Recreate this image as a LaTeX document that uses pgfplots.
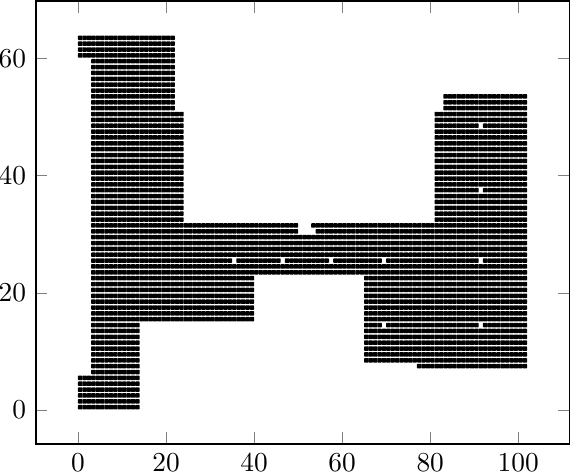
\documentclass[border=0pt]{standalone}
\usepackage{pgfplots}
\usepackage{pgfplotstable}
\pgfplotsset{compat=1.18}
\pgfdeclareplotmark{pill}{%
\pgfpathmoveto{\pgfqpoint{-0.84pt}{-0.57pt}}%
\pgfpathlineto{\pgfqpoint{-0.59pt}{-0.82pt}}%
\pgfpathlineto{\pgfqpoint{0.59pt}{-0.82pt}}%
\pgfpathlineto{\pgfqpoint{0.84pt}{-0.57pt}}%
\pgfpathlineto{\pgfqpoint{0.84pt}{0.57pt}}%
\pgfpathlineto{\pgfqpoint{0.59pt}{0.82pt}}%
\pgfpathlineto{\pgfqpoint{-0.59pt}{0.82pt}}%
\pgfpathlineto{\pgfqpoint{-0.84pt}{0.57pt}}%
\pgfpathclose\pgfusepathqfill}
\pgfplotsset{dots/.style={only marks,mark=pill,black,forget plot}}
% x positions of the points of each kind of row
\pgfplotstableread{
x
0.5
1.5
2.5
3.5
4.5
5.5
6.5
7.5
8.5
9.5
10.5
11.5
12.5
13.5
}\rowA
\pgfplotstableread{
x
3.5
4.5
5.5
6.5
7.5
8.5
9.5
10.5
11.5
12.5
13.5
}\rowB
\pgfplotstableread{
x
77.5
78.5
79.5
80.5
81.5
82.5
83.5
84.5
85.5
86.5
87.5
88.5
89.5
90.5
91.5
92.5
93.5
94.5
95.5
96.5
97.5
98.5
99.5
100.5
101.5
}\rowC
\pgfplotstableread{
x
65.5
66.5
67.5
68.5
69.5
70.5
71.5
72.5
73.5
74.5
75.5
76.5
77.5
78.5
79.5
80.5
81.5
82.5
83.5
84.5
85.5
86.5
87.5
88.5
89.5
90.5
91.5
92.5
93.5
94.5
95.5
96.5
97.5
98.5
99.5
100.5
101.5
}\rowD
\pgfplotstableread{
x
65.5
66.5
67.5
68.5
70.5
71.5
72.5
73.5
74.5
75.5
76.5
77.5
78.5
79.5
80.5
81.5
82.5
83.5
84.5
85.5
86.5
87.5
88.5
89.5
90.5
92.5
93.5
94.5
95.5
96.5
97.5
98.5
99.5
100.5
101.5
}\rowDh
\pgfplotstableread{
x
3.5
4.5
5.5
6.5
7.5
8.5
9.5
10.5
11.5
12.5
13.5
14.5
15.5
16.5
17.5
18.5
19.5
20.5
21.5
22.5
23.5
24.5
25.5
26.5
27.5
28.5
29.5
30.5
31.5
32.5
33.5
34.5
35.5
36.5
37.5
38.5
39.5
}\rowE
\pgfplotstableread{
x
40.5
41.5
42.5
43.5
44.5
45.5
46.5
47.5
48.5
49.5
}\rowM
\pgfplotstableread{
x
50.5
51.5
52.5
}\rowN
\pgfplotstableread{
x
53.5
}\rowO
\pgfplotstableread{
x
54.5
55.5
56.5
57.5
58.5
59.5
60.5
61.5
62.5
63.5
64.5
}\rowP
\pgfplotstableread{
x
3.5
4.5
5.5
6.5
7.5
8.5
9.5
10.5
11.5
12.5
13.5
14.5
15.5
16.5
17.5
18.5
19.5
20.5
21.5
22.5
23.5
24.5
25.5
26.5
27.5
28.5
29.5
30.5
31.5
32.5
33.5
34.5
36.5
37.5
38.5
39.5
40.5
41.5
42.5
43.5
44.5
45.5
47.5
48.5
49.5
50.5
51.5
52.5
53.5
54.5
55.5
56.5
58.5
59.5
60.5
61.5
62.5
63.5
64.5
}\rowHl
\pgfplotstableread{
x
3.5
4.5
5.5
6.5
7.5
8.5
9.5
10.5
11.5
12.5
13.5
14.5
15.5
16.5
17.5
18.5
19.5
20.5
21.5
}\rowQ
\pgfplotstableread{
x
22.5
23.5
}\rowR
\pgfplotstableread{
x
0.5
1.5
2.5
}\rowS
\pgfplotstableread{
x
81.5
82.5
}\rowT
\pgfplotstableread{
x
83.5
84.5
85.5
86.5
87.5
88.5
89.5
90.5
91.5
92.5
93.5
94.5
95.5
96.5
97.5
98.5
99.5
100.5
101.5
}\rowU
\pgfplotstableread{
x
83.5
84.5
85.5
86.5
87.5
88.5
89.5
90.5
92.5
93.5
94.5
95.5
96.5
97.5
98.5
99.5
100.5
101.5
}\rowUh
\newcommand\pts[2]{\addplot[dots] table[x index=0,y index=0,y expr=#2]{#1};}
\begin{document}
\begin{tikzpicture}
\useasboundingbox (-13.05pt,-10.2pt) rectangle (195.25pt,162.3pt);
\begin{axis}[xmin=-9.6,xmax=111.6,ymin=-5.8,ymax=69.8,xtick={0,20,40,60,80,100},ytick={0,20,40,60},axis line style={line width=0.6pt}]
\pts\rowA{0.5}
\pts\rowA{1.5}
\pts\rowA{2.5}
\pts\rowA{3.5}
\pts\rowA{4.5}
\pts\rowA{5.5}
\pts\rowB{6.5}
\pts\rowB{7.5}\pts\rowC{7.5}
\pts\rowB{8.5}\pts\rowD{8.5}
\pts\rowB{9.5}\pts\rowD{9.5}
\pts\rowB{10.5}\pts\rowD{10.5}
\pts\rowB{11.5}\pts\rowD{11.5}
\pts\rowB{12.5}\pts\rowD{12.5}
\pts\rowB{13.5}\pts\rowD{13.5}
\pts\rowB{14.5}\pts\rowDh{14.5}
\pts\rowE{15.5}\pts\rowD{15.5}
\pts\rowE{16.5}\pts\rowD{16.5}
\pts\rowE{17.5}\pts\rowD{17.5}
\pts\rowE{18.5}\pts\rowD{18.5}
\pts\rowE{19.5}\pts\rowD{19.5}
\pts\rowE{20.5}\pts\rowD{20.5}
\pts\rowE{21.5}\pts\rowD{21.5}
\pts\rowE{22.5}\pts\rowD{22.5}
\pts\rowE{23.5}\pts\rowM{23.5}\pts\rowN{23.5}\pts\rowO{23.5}\pts\rowP{23.5}\pts\rowD{23.5}
\pts\rowE{24.5}\pts\rowM{24.5}\pts\rowN{24.5}\pts\rowO{24.5}\pts\rowP{24.5}\pts\rowD{24.5}
\pts\rowHl{25.5}\pts\rowDh{25.5}
\pts\rowE{26.5}\pts\rowM{26.5}\pts\rowN{26.5}\pts\rowO{26.5}\pts\rowP{26.5}\pts\rowD{26.5}
\pts\rowE{27.5}\pts\rowM{27.5}\pts\rowN{27.5}\pts\rowO{27.5}\pts\rowP{27.5}\pts\rowD{27.5}
\pts\rowE{28.5}\pts\rowM{28.5}\pts\rowN{28.5}\pts\rowO{28.5}\pts\rowP{28.5}\pts\rowD{28.5}
\pts\rowE{29.5}\pts\rowM{29.5}\pts\rowN{29.5}\pts\rowO{29.5}\pts\rowP{29.5}\pts\rowD{29.5}
\pts\rowE{30.5}\pts\rowM{30.5}\pts\rowP{30.5}\pts\rowD{30.5}
\pts\rowE{31.5}\pts\rowM{31.5}\pts\rowO{31.5}\pts\rowP{31.5}\pts\rowD{31.5}
\pts\rowQ{32.5}\pts\rowR{32.5}\pts\rowT{32.5}\pts\rowU{32.5}
\pts\rowQ{33.5}\pts\rowR{33.5}\pts\rowT{33.5}\pts\rowU{33.5}
\pts\rowQ{34.5}\pts\rowR{34.5}\pts\rowT{34.5}\pts\rowU{34.5}
\pts\rowQ{35.5}\pts\rowR{35.5}\pts\rowT{35.5}\pts\rowU{35.5}
\pts\rowQ{36.5}\pts\rowR{36.5}\pts\rowT{36.5}\pts\rowU{36.5}
\pts\rowQ{37.5}\pts\rowR{37.5}\pts\rowT{37.5}\pts\rowUh{37.5}
\pts\rowQ{38.5}\pts\rowR{38.5}\pts\rowT{38.5}\pts\rowU{38.5}
\pts\rowQ{39.5}\pts\rowR{39.5}\pts\rowT{39.5}\pts\rowU{39.5}
\pts\rowQ{40.5}\pts\rowR{40.5}\pts\rowT{40.5}\pts\rowU{40.5}
\pts\rowQ{41.5}\pts\rowR{41.5}\pts\rowT{41.5}\pts\rowU{41.5}
\pts\rowQ{42.5}\pts\rowR{42.5}\pts\rowT{42.5}\pts\rowU{42.5}
\pts\rowQ{43.5}\pts\rowR{43.5}\pts\rowT{43.5}\pts\rowU{43.5}
\pts\rowQ{44.5}\pts\rowR{44.5}\pts\rowT{44.5}\pts\rowU{44.5}
\pts\rowQ{45.5}\pts\rowR{45.5}\pts\rowT{45.5}\pts\rowU{45.5}
\pts\rowQ{46.5}\pts\rowR{46.5}\pts\rowT{46.5}\pts\rowU{46.5}
\pts\rowQ{47.5}\pts\rowR{47.5}\pts\rowT{47.5}\pts\rowU{47.5}
\pts\rowQ{48.5}\pts\rowR{48.5}\pts\rowT{48.5}\pts\rowUh{48.5}
\pts\rowQ{49.5}\pts\rowR{49.5}\pts\rowT{49.5}\pts\rowU{49.5}
\pts\rowQ{50.5}\pts\rowR{50.5}\pts\rowT{50.5}\pts\rowU{50.5}
\pts\rowQ{51.5}\pts\rowU{51.5}
\pts\rowQ{52.5}\pts\rowU{52.5}
\pts\rowQ{53.5}\pts\rowU{53.5}
\pts\rowQ{54.5}
\pts\rowQ{55.5}
\pts\rowQ{56.5}
\pts\rowQ{57.5}
\pts\rowQ{58.5}
\pts\rowQ{59.5}
\pts\rowS{60.5}\pts\rowQ{60.5}
\pts\rowS{61.5}\pts\rowQ{61.5}
\pts\rowS{62.5}\pts\rowQ{62.5}
\pts\rowS{63.5}\pts\rowQ{63.5}
\end{axis}
\end{tikzpicture}
\end{document}
